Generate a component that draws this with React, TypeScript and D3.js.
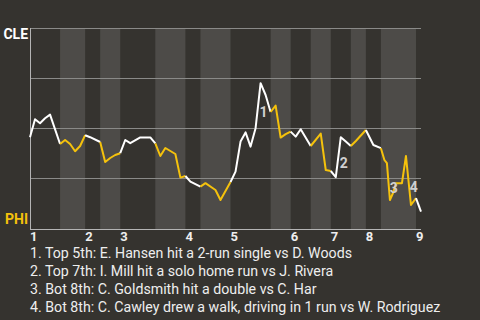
import React from "react";
import * as d3 from "d3";

// ---- data ----
// game progress (play number) and Cleveland win probability (%)
const playX = [0, 1, 2, 3, 4, 6, 7, 8, 9, 10, 11, 12, 14, 15, 16, 17, 18, 19, 20, 22, 24, 25, 26, 27, 29, 30, 31, 32, 34, 35, 37, 38, 40, 41, 42, 43, 44, 45, 46, 47, 48, 49, 50, 51, 52, 53, 54, 56, 58, 59, 60, 61, 62, 63, 64, 65, 67, 68.5, 70, 70.7, 71.2, 71.8, 72.5, 73, 74.2, 75, 76, 77, 78];
const cleWinPct = [45.4, 54.4, 52.4, 54.9, 56.7, 42, 44, 42, 38.4, 41, 46.4, 45.4, 43, 33, 35, 36.5, 37.4, 44, 42.4, 45.3, 45.3, 42.3, 36, 40, 37, 25.2, 26, 23.2, 20.7, 22.4, 19, 14, 23, 28.2, 43.2, 47.8, 40.7, 49.9, 72.4, 66.5, 58, 61.2, 45.2, 46.9, 48.2, 45.7, 49.4, 41, 47.2, 29, 28.5, 25.4, 45.4, 43.2, 41, 43.5, 49, 41.5, 39.9, 34, 32.4, 14, 18, 22.4, 22.4, 36, 11.5, 14.9, 8.2];

// half-inning start positions (top 1st, bot 1st, top 2nd, ...) and game end
const halfInningStarts = [0, 6, 11, 14, 18, 25, 31, 34, 40, 48, 52, 56, 60, 64, 67, 70, 77];
const gameEnd = 78;
const inningLabels = ["1", "2", "3", "4", "5", "6", "7", "8", "9"];

const gridPct = [25, 50, 75, 100];
const awayTeam = "CLE";
const homeTeam = "PHI";

// key plays: the play position after which the event happened
const keyPlayX = [46, 62, 71.8, 76];
const keyPlayText = [
  "1. Top 5th: E. Hansen hit a 2-run single vs D. Woods",
  "2. Top 7th: I. Mill hit a solo home run vs J. Rivera",
  "3. Bot 8th: C. Goldsmith hit a double vs C. Har",
  "4. Bot 8th: C. Cawley drew a walk, driving in 1 run vs W. Rodriguez",
];

// ---- styles ----
const W = 480;
const H = 320;
const BG = "#35332f";
const BAND = "rgba(255,255,255,0.12)";
const GRID = "#8a8a88";
const AXIS = "#b4b4b4";
const AWAY_COLOR = "#ffffff";
const HOME_COLOR = "#f5c20c";
const FONT = "Roboto, 'Noto Sans', sans-serif";

export default function App() {
  const left = 30;
  const right = 421;
  const top = 28;
  const bottom = 230;

  const x = d3.scaleLinear().domain([0, gameEnd]).range([left, right]);
  const y = d3.scaleLinear().domain([0, 100]).range([228, top]);

  const pts = playX.map((px, i) => ({ px, v: cleWinPct[i] }));
  const line = d3
    .line<{ px: number; v: number }>()
    .x((d) => x(d.px))
    .y((d) => y(d.v));

  const halves = halfInningStarts.map((s, i) => {
    const e = i + 1 < halfInningStarts.length ? halfInningStarts[i + 1] : gameEnd;
    return { s, e, isTop: i % 2 === 0 };
  });

  const keyPlays = keyPlayX.map((kx, i) => {
    const idx = playX.indexOf(kx);
    const a = pts[idx - 1];
    const b = pts[idx];
    return {
      cx: (x(a.px) + x(b.px)) / 2 + 5.4,
      cy: (y(a.v) + y(b.v)) / 2 + 6,
      label: String(i + 1),
    };
  });

  return (
    <svg
      width={W}
      height={H}
      style={{ position: "fixed", left: 0, top: 0, display: "block" }}
      fontFamily={FONT}
    >
      <rect x={0} y={0} width={W} height={H} fill={BG} />
      {/* bottom half-inning bands */}
      {halves
        .filter((h) => !h.isTop)
        .map((h, i) => (
          <rect
            key={"b" + i}
            x={x(h.s)}
            y={top}
            width={x(h.e) - x(h.s)}
            height={bottom - top}
            fill={BAND}
          />
        ))}
      {/* gridlines */}
      {gridPct.map((g) => (
        <line
          key={"g" + g}
          x1={left}
          x2={right}
          y1={Math.round(y(g)) + 0.5}
          y2={Math.round(y(g)) + 0.5}
          stroke={GRID}
          strokeWidth={1}
        />
      ))}
      {/* axes */}
      <line x1={left + 0.5} x2={left + 0.5} y1={top} y2={bottom} stroke={AXIS} strokeWidth={1} />
      <line x1={left} x2={right} y1={bottom - 0.5} y2={bottom - 0.5} stroke={AXIS} strokeWidth={1} />
      {/* win probability line, colored by half inning */}
      {halves.map((h, i) => {
        const seg = pts.filter((p) => p.px >= h.s && p.px <= h.e);
        return (
          <path
            key={"l" + i}
            d={line(seg) || ""}
            fill="none"
            stroke={h.isTop ? AWAY_COLOR : HOME_COLOR}
            strokeWidth={2}
            strokeLinejoin="round"
          />
        );
      })}
      {/* key play markers */}
      {keyPlays.map((k) => (
        <text
          key={"k" + k.label}
          x={k.cx}
          y={k.cy}
          textAnchor="middle"
          dominantBaseline="central"
          fontSize={14}
          fontWeight="bold"
          fill="#d0d0d0"
        >
          {k.label}
        </text>
      ))}
      {/* team labels */}
      <text x={28} y={y(100) + 11} textAnchor="end" fontSize={14} fontWeight="bold" fill={AWAY_COLOR}>
        {awayTeam}
      </text>
      <text x={28} y={y(0) - 4} textAnchor="end" fontSize={14} fontWeight="bold" fill={HOME_COLOR}>
        {homeTeam}
      </text>
      {/* inning labels */}
      {halves
        .filter((h) => h.isTop)
        .map((h, i) => (
          <text
            key={"i" + i}
            x={x(h.s)}
            y={bottom + 11}
            fontSize={13}
            fontWeight="bold"
            fill="#eeeeee"
          >
            {inningLabels[i]}
          </text>
        ))}
      {/* key play descriptions */}
      {keyPlayText.map((t, i) => (
        <text key={"t" + i} x={30} y={257.5 + i * 18} fontSize={14.2} fill="#eeeeee">
          {t}
        </text>
      ))}
    </svg>
  );
}
